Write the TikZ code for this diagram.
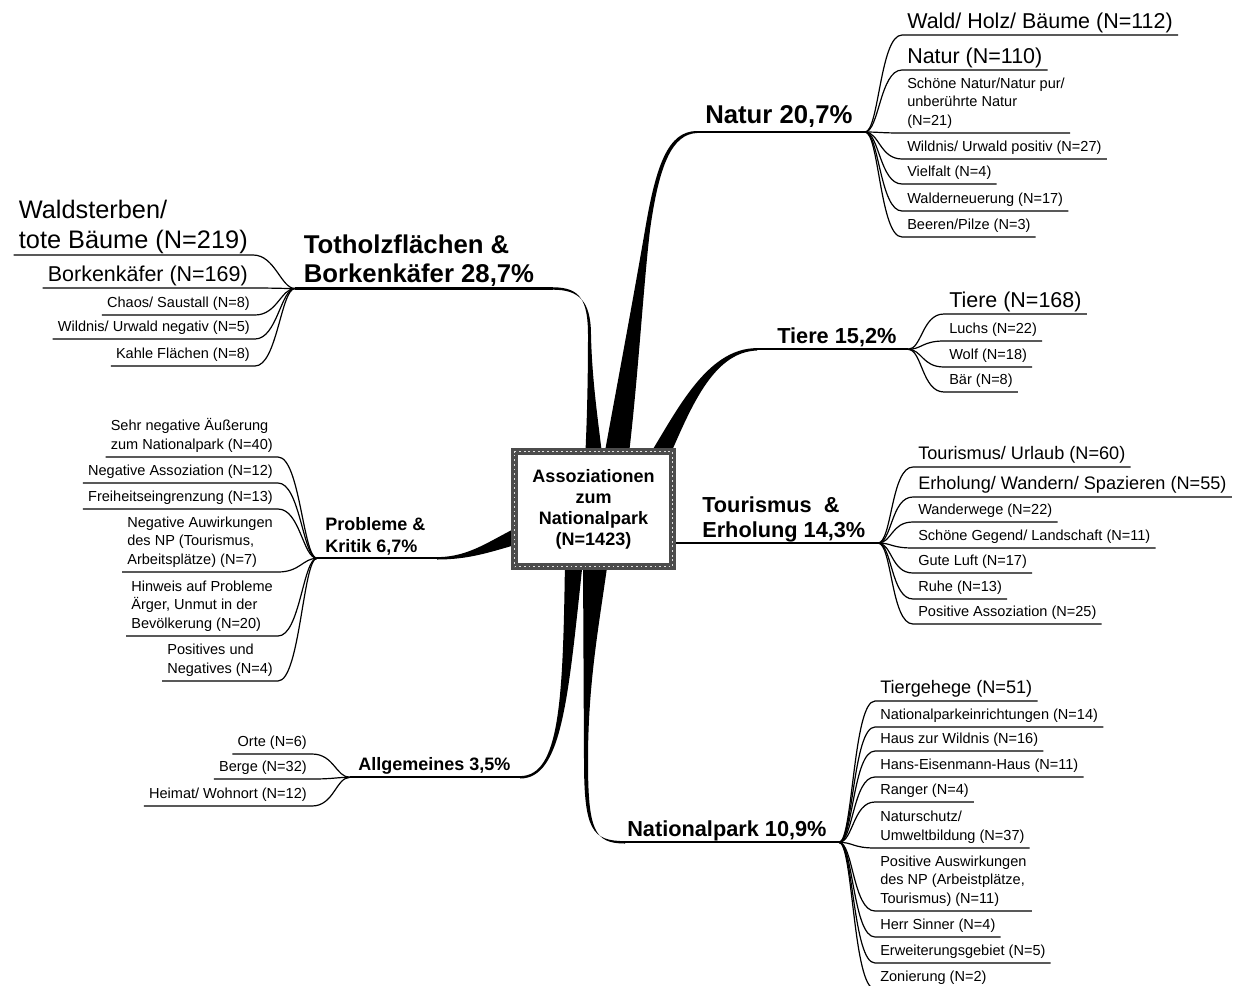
\documentclass[tikz,border=0pt]{standalone}
\usepackage{fontspec}
\setmainfont{Liberation Sans}
\newcommand\fsS{\fontsize{10.9pt}{13.9pt}\selectfont}
\newcommand\fsM{\fontsize{13.6pt}{16.3pt}\selectfont}
\newcommand\fsL{\fontsize{16.1pt}{19.3pt}\selectfont}
\newcommand\fsXL{\fontsize{19pt}{22.5pt}\selectfont}
\newcommand\fsTopA{\bfseries\fontsize{19.3pt}{22.2pt}\selectfont}
\newcommand\fsTopB{\bfseries\fontsize{16.3pt}{18.8pt}\selectfont}
\newcommand\fsTopC{\bfseries\fontsize{13.5pt}{17pt}\selectfont}
\tikzset{
  leaf/.style={font=\fsS, inner xsep=3.75pt, inner ysep=3.4pt, align=left},
  leafM/.style={leaf, font=\fsM, inner ysep=2.4pt},
  leafL/.style={leaf, font=\fsL, inner ysep=1.1pt},
  leafXL/.style={leaf, font=\fsXL, inner ysep=0.5pt},
  twig/.style={line width=0.9pt},
  twigR/.style={to path={.. controls +(14,0) and +(-22,0) .. (\tikztotarget)}},
  twigL/.style={to path={.. controls +(-14,0) and +(22,0) .. (\tikztotarget)}},
  bough/.style={line width=1.6pt},
  topic/.style={inner sep=0pt, align=left},
  hubbox/.style={draw=gray!60!black, line width=5.25pt, fill=white,
    minimum width=118.5pt, minimum height=86.25pt, align=center,
    font=\bfseries\fontsize{13.5pt}{15.75pt}\selectfont,
    postaction={draw=gray!25, line width=1.3pt, dash pattern=on 1.3pt off 2.2pt}}
}
\begin{document}
\begin{tikzpicture}[x=0.75pt,y=0.75pt,yscale=-1,xscale=1]
\useasboundingbox (0,0) rectangle (1238,985);
% hubs and knees
\coordinate (tot) at (295,288.5); \coordinate (totK) at (553,288.5);
\coordinate (nat) at (865,132); \coordinate (natK) at (697,132);
\coordinate (tie) at (908,349.3); \coordinate (tieK) at (757,349.3);
\coordinate (tou) at (878,543); \coordinate (touK) at (676,543);
\coordinate (nap) at (839,842.3); \coordinate (napK) at (625,842.3);
\coordinate (all) at (350,777.3); \coordinate (allK) at (520,777.3);
\coordinate (pro) at (317,558.3); \coordinate (proK) at (437,558.3);
% tapered limbs
\fill (585,462) .. controls (587,420) and (588,380) .. (588,335) .. controls (588,300) and (580,287.3) .. (553,287.3)
  -- (553,289.7) .. controls (578,289.7) and (591,300) .. (591,335) .. controls (592,380) and (598,420) .. (603,462) -- cycle;
\fill (603,462) .. controls (618,380) and (633,300) .. (645,230) .. controls (656,165) and (668,131) .. (697,131)
  -- (697,133) .. controls (672,134) and (659,165) .. (650,230) .. controls (643,290) and (638,380) .. (628,462) -- cycle;
\fill (645,462) .. controls (675,415) and (705,348.1) .. (757,348.1)
  -- (757,350.5) .. controls (712,352) and (690,410) .. (667,462) -- cycle;
\fill (583,560) -- (584,760) .. controls (584,830) and (592,841.1) .. (625,841.1)
  -- (625,843.5) .. controls (594,843.5) and (588,830) .. (588,760) .. controls (588,680) and (600,620) .. (608,560) -- cycle;
\fill (565,560) .. controls (563,700) and (560,776.1) .. (520,776.1)
  -- (520,778.5) .. controls (562,778.5) and (568,700) .. (583,560) -- cycle;
\fill (522,525) .. controls (490,540) and (470,557.1) .. (437,557.1)
  -- (437,559.5) .. controls (470,559.5) and (490,552) .. (522,543) -- cycle;
\draw[bough] (totK) -- (tot);
\draw[bough] (natK) -- (nat);
\draw[bough] (tieK) -- (tie);
\draw[bough] (touK) -- (tou);
\draw[bough] (napK) -- (nap);
\draw[bough] (allK) -- (all);
\draw[bough] (proK) -- (pro);
% centre
\node[hubbox] (core) at (593.5,509) {Assoziationen\\zum\\Nationalpark\\(N=1423)};
% main topics
\node[topic, font=\fsTopA, anchor=north west] (totL) at (303.6,234.2) {Totholzflächen \&\\Borkenkäfer 28,7\%};
\node[topic, font=\fsTopA, anchor=base west] (natL) at (705,123) {Natur 20,7\%};
\node[topic, font=\fsTopB, anchor=base west] (tieL) at (777,343) {Tiere 15,2\%};
\node[topic, font=\fsTopB, anchor=north west] (touL) at (702,496.4) {Tourismus~ \&\\Erholung 14,3\%};
\node[topic, font=\fsTopB, anchor=base west] (napL) at (627,836) {Nationalpark 10,9\%};
\node[topic, font=\fsTopC, anchor=base west] (allL) at (358,770) {Allgemeines 3,5\%};
\node[topic, font=\fsTopC, anchor=north west] (proL) at (325,517) {Probleme \&\\Kritik 6,7\%};
% Totholz
\node[leafXL, anchor=south east] (h1) at (253,255) {Waldsterben/\\tote Bäume (N=219)};
\draw[twig] (tot) to[twigL] (h1.south east) -- (h1.south west);
\node[leafL, anchor=south east] (h2) at (253,288) {Borkenkäfer (N=169)};
\draw[twig] (tot) to[twigL] (h2.south east) -- (h2.south west);
\node[leaf, anchor=south east] (h3) at (255,315) {Chaos/ Saustall (N=8)};
\draw[twig] (tot) to[twigL] (h3.south east) -- (h3.south west);
\node[leaf, anchor=south east] (h4) at (255,339) {Wildnis/ Urwald negativ (N=5)};
\draw[twig] (tot) to[twigL] (h4.south east) -- (h4.south west);
\node[leaf, anchor=south east] (h5) at (255,366) {Kahle Flächen (N=8)};
\draw[twig] (tot) to[twigL] (h5.south east) -- (h5.south west);
% Natur
\node[leafL, anchor=south west] (n1) at (902,35) {Wald/ Holz/ Bäume (N=112)};
\draw[twig] (nat) to[twigR] (n1.south west) -- (n1.south east);
\node[leafL, anchor=south west] (n2) at (902,70) {Natur (N=110)};
\draw[twig] (nat) to[twigR] (n2.south west) -- (n2.south east);
\node[leaf, anchor=south west] (n3) at (902,133) {Schöne Natur/Natur pur/\\unberührte Natur\\(N=21)};
\draw[twig] (nat) to[twigR] (n3.south west) -- (n3.south east);
\node[leaf, anchor=south west] (n4) at (902,159) {Wildnis/ Urwald positiv (N=27)};
\draw[twig] (nat) to[twigR] (n4.south west) -- (n4.south east);
\node[leaf, anchor=south west] (n5) at (902,184) {Vielfalt (N=4)};
\draw[twig] (nat) to[twigR] (n5.south west) -- (n5.south east);
\node[leaf, anchor=south west] (n6) at (902,211) {Walderneuerung (N=17)};
\draw[twig] (nat) to[twigR] (n6.south west) -- (n6.south east);
\node[leaf, anchor=south west] (n7) at (902,237) {Beeren/Pilze (N=3)};
\draw[twig] (nat) to[twigR] (n7.south west) -- (n7.south east);
% Tiere
\node[leafL, anchor=south west] (t1) at (944,314) {Tiere (N=168)};
\draw[twig] (tie) to[twigR] (t1.south west) -- (t1.south east);
\node[leaf, anchor=south west] (t2) at (944,341) {Luchs (N=22)};
\draw[twig] (tie) to[twigR] (t2.south west) -- (t2.south east);
\node[leaf, anchor=south west] (t3) at (944,367) {Wolf (N=18)};
\draw[twig] (tie) to[twigR] (t3.south west) -- (t3.south east);
\node[leaf, anchor=south west] (t4) at (944,392) {Bär (N=8)};
\draw[twig] (tie) to[twigR] (t4.south west) -- (t4.south east);
% Tourismus
\node[leafM, anchor=south west] (r1) at (913,467) {Tourismus/ Urlaub (N=60)};
\draw[twig] (tou) to[twigR] (r1.south west) -- (r1.south east);
\node[leafM, anchor=south west] (r2) at (913,497) {Erholung/ Wandern/ Spazieren (N=55)};
\draw[twig] (tou) to[twigR] (r2.south west) -- (r2.south east);
\node[leaf, anchor=south west] (r3) at (913,522) {Wanderwege (N=22)};
\draw[twig] (tou) to[twigR] (r3.south west) -- (r3.south east);
\node[leaf, anchor=south west] (r4) at (913,548) {Schöne Gegend/ Landschaft (N=11)};
\draw[twig] (tou) to[twigR] (r4.south west) -- (r4.south east);
\node[leaf, anchor=south west] (r5) at (913,573) {Gute Luft (N=17)};
\draw[twig] (tou) to[twigR] (r5.south west) -- (r5.south east);
\node[leaf, anchor=south west] (r6) at (913,599) {Ruhe (N=13)};
\draw[twig] (tou) to[twigR] (r6.south west) -- (r6.south east);
\node[leaf, anchor=south west] (r7) at (913,624) {Positive Assoziation (N=25)};
\draw[twig] (tou) to[twigR] (r7.south west) -- (r7.south east);
% Nationalpark
\node[leafM, anchor=south west] (p1) at (875,701) {Tiergehege (N=51)};
\draw[twig] (nap) to[twigR] (p1.south west) -- (p1.south east);
\node[leaf, anchor=south west] (p2) at (875,727) {Nationalparkeinrichtungen (N=14)};
\draw[twig] (nap) to[twigR] (p2.south west) -- (p2.south east);
\node[leaf, anchor=south west] (p3) at (875,751) {Haus zur Wildnis (N=16)};
\draw[twig] (nap) to[twigR] (p3.south west) -- (p3.south east);
\node[leaf, anchor=south west] (p4) at (875,777) {Hans-Eisenmann-Haus (N=11)};
\draw[twig] (nap) to[twigR] (p4.south west) -- (p4.south east);
\node[leaf, anchor=south west] (p5) at (875,802) {Ranger (N=4)};
\draw[twig] (nap) to[twigR] (p5.south west) -- (p5.south east);
\node[leaf, anchor=south west] (p6) at (875,848) {Naturschutz/\\Umweltbildung (N=37)};
\draw[twig] (nap) to[twigR] (p6.south west) -- (p6.south east);
\node[leaf, anchor=south west] (p7) at (875,911) {Positive Auswirkungen\\des NP (Arbeistplätze,\\Tourismus) (N=11)};
\draw[twig] (nap) to[twigR] (p7.south west) -- (p7.south east);
\node[leaf, anchor=south west] (p8) at (875,937) {Herr Sinner (N=4)};
\draw[twig] (nap) to[twigR] (p8.south west) -- (p8.south east);
\node[leaf, anchor=south west] (p9) at (875,963) {Erweiterungsgebiet (N=5)};
\draw[twig] (nap) to[twigR] (p9.south west) -- (p9.south east);
\node[leaf, anchor=south west] (p10) at (875,989) {Zonierung (N=2)};
\draw[twig] (nap) to[twigR] (p10.south west) -- (p10.south east);
% Allgemeines
\node[leaf, anchor=south east] (a1) at (312,754) {Orte (N=6)};
\draw[twig] (all) to[twigL] (a1.south east) -- (a1.south west);
\node[leaf, anchor=south east] (a2) at (312,779) {Berge (N=32)};
\draw[twig] (all) to[twigL] (a2.south east) -- (a2.south west);
\node[leaf, anchor=south east] (a3) at (312,806) {Heimat/ Wohnort (N=12)};
\draw[twig] (all) to[twigL] (a3.south east) -- (a3.south west);
% Probleme
\node[leaf, anchor=south east] (k1) at (278,457) {Sehr negative Äußerung\\zum Nationalpark (N=40)};
\draw[twig] (pro) to[twigL] (k1.south east) -- (k1.south west);
\node[leaf, anchor=south east] (k2) at (278,483) {Negative Assoziation (N=12)};
\draw[twig] (pro) to[twigL] (k2.south east) -- (k2.south west);
\node[leaf, anchor=south east] (k3) at (278,509) {Freiheitseingrenzung (N=13)};
\draw[twig] (pro) to[twigL] (k3.south east) -- (k3.south west);
\node[leaf, anchor=south east] (k4) at (278,572) {Negative Auwirkungen\\des NP (Tourismus,\\Arbeitsplätze) (N=7)};
\draw[twig] (pro) to[twigL] (k4.south east) -- (k4.south west);
\node[leaf, anchor=south east] (k5) at (278,636) {Hinweis auf Probleme\\Ärger, Unmut in der\\Bevölkerung (N=20)};
\draw[twig] (pro) to[twigL] (k5.south east) -- (k5.south west);
\node[leaf, anchor=south east] (k6) at (278,681) {Positives und\\Negatives (N=4)};
\draw[twig] (pro) to[twigL] (k6.south east) -- (k6.south west);
\end{tikzpicture}
\end{document}
